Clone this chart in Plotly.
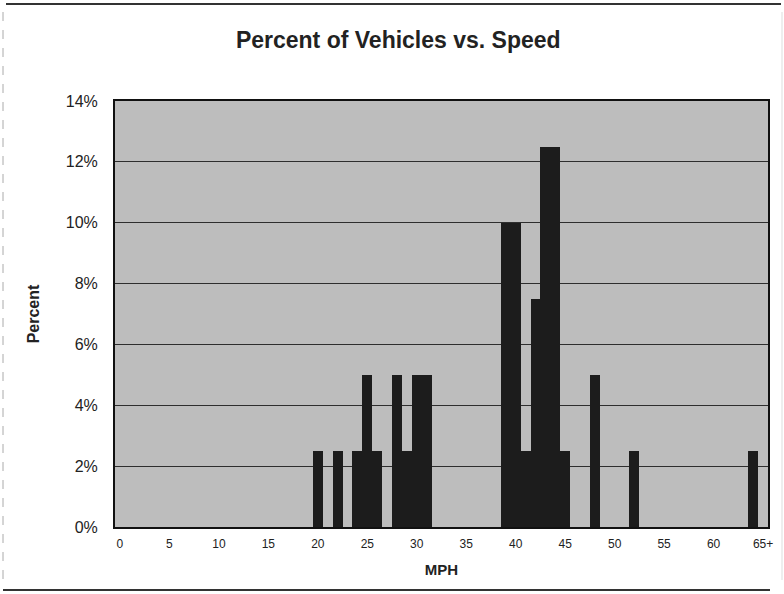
import plotly.graph_objects as go

# Data
mph = list(range(0, 66))
pct_by_mph = {20: 2.5, 22: 2.5, 24: 2.5, 25: 5, 26: 2.5, 28: 5, 29: 2.5,
              30: 5, 31: 5, 39: 10, 40: 10, 41: 2.5, 42: 7.5, 43: 12.5,
              44: 12.5, 45: 2.5, 48: 5, 52: 2.5, 64: 2.5}
percent = [pct_by_mph.get(m, 0) for m in mph]
tick_vals = list(range(0, 66, 5))
tick_text = [str(v) for v in tick_vals[:-1]] + ["65+"]

W, H = 784, 594
L, R, T, B = 115, 16, 101, 67
pw, ph = W - L - R, H - T - B

def px(x):
    return (x - L) / pw

def py(y):
    return (H - B - y) / ph

font = "Arial, Liberation Sans, sans-serif"

fig = go.Figure(go.Bar(x=mph, y=percent, marker=dict(color="#1c1c1c", line=dict(width=0)),
                       hoverinfo="x+y"))

fig.update_layout(
    width=W, height=H,
    margin=dict(l=L, r=R, t=T, b=B),
    paper_bgcolor="white",
    plot_bgcolor="#bdbdbd",
    bargap=0,
    showlegend=False,
    font=dict(family=font, color="#222"),
    title=dict(text="<b>Percent of Vehicles vs. Speed</b>", x=0.508, xanchor="center",
               y=1 - 40 / H, yanchor="middle", font=dict(size=23, family=font, color="#222")),
    xaxis=dict(range=[-0.5, 65.5], tickvals=tick_vals, ticktext=tick_text,
               tickfont=dict(size=12), showgrid=False, zeroline=False,
               showline=True, linecolor="#111", linewidth=2, mirror=True,
               ticks="", ticklen=0, ticklabelstandoff=5,
               title=dict(text="<b>MPH</b>", font=dict(size=15), standoff=14)),
    yaxis=dict(range=[0, 14], dtick=2, ticksuffix="%", tickfont=dict(size=16),
               showgrid=True, gridcolor="#2e2e2e", gridwidth=1, zeroline=False,
               showline=True, linecolor="#111", linewidth=2, mirror=True,
               ticks="", ticklen=0, ticklabelstandoff=12,
               title=dict(text="<b>Percent</b>", font=dict(size=16), standoff=22)),
)

# outer chart frame
shapes = [
    dict(type="line", xref="paper", yref="paper", x0=px(6), x1=px(781), y0=py(4), y1=py(4),
         line=dict(color="#333", width=2)),
    dict(type="line", xref="paper", yref="paper", x0=px(3), x1=px(770), y0=py(590), y1=py(590),
         line=dict(color="#333", width=2)),
    dict(type="line", xref="paper", yref="paper", x0=px(3), x1=px(3), y0=py(12), y1=py(588),
         line=dict(color="#aaa", width=1, dash="dash")),
    dict(type="line", xref="paper", yref="paper", x0=px(782), x1=px(782), y0=py(12), y1=py(580),
         line=dict(color="#ddd", width=1)),
]
fig.update_layout(shapes=shapes)

fig.write_html("out.html")
